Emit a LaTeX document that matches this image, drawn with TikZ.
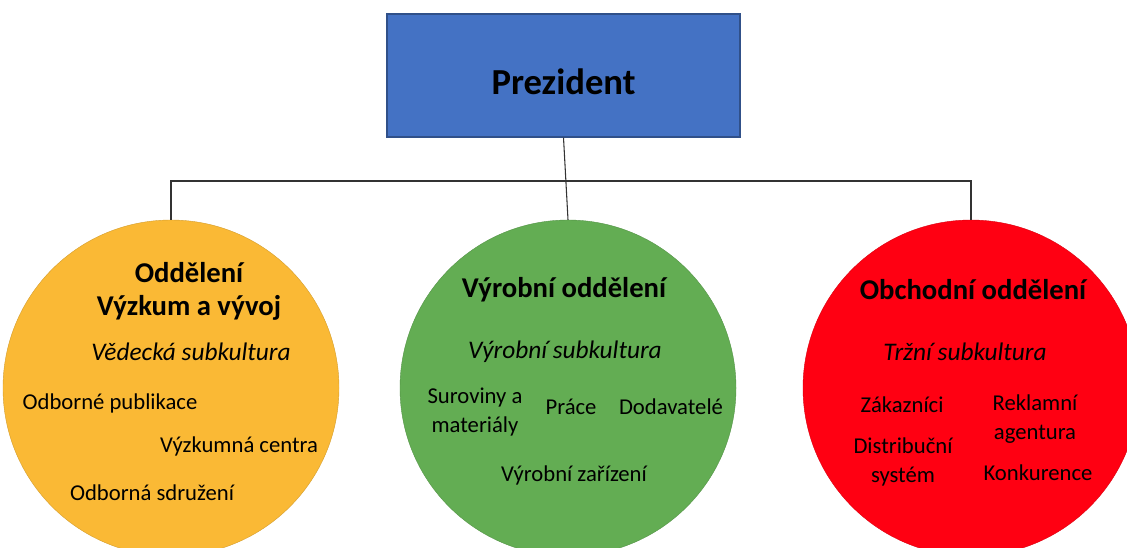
\documentclass[tikz,border=0pt]{standalone}
\usepackage{fontspec}
\setmainfont{Carlito}
\usetikzlibrary{positioning}
\definecolor{prezblue}{HTML}{4472C4}
\definecolor{rdorange}{HTML}{FAB935}
\definecolor{prodgreen}{HTML}{63AD53}
\definecolor{salesred}{HTML}{FF0012}
\tikzset{
 prezbox/.style={draw=prezblue!70!black, fill=prezblue, minimum width=264.75pt, minimum height=92.25pt, line width=0.8pt, text height=28pt, text depth=0pt, font=\fontsize{27.5}{32}\selectfont\bfseries},
 dept/.style={circle, draw=#1!85!black, fill=#1, minimum size=252pt, inner sep=0pt, line width=0.3pt},
 title/.style={font=\fontsize{21.5}{24.75}\selectfont\bfseries, align=center},
 sub/.style={font=\fontsize{19}{22}\selectfont\itshape},
 item/.style={font=\fontsize{17}{21.75}\selectfont, align=center},
}
\begin{document}
\begin{tikzpicture}[x=0.75pt, y=-0.75pt]
\useasboundingbox (0,0) rectangle (1127,547);
\node[prezbox] (prez) at (563.5,75.5) {Prezident};
\node[dept=rdorange] (rd) at (171,388) {};
\node[dept=prodgreen] (prod) at (568,388) {};
\node[dept=salesred] (sales) at (971,388) {};
\coordinate (bar) at (568,181);
\draw[black!80, line width=0.8pt] (prez.south) -- (prod.north);
\draw[black!80, line width=0.8pt] (rd.north) |- (bar) -| (sales.north);

\node[title] (rdt) at (189,291) {Oddělení\\Výzkum a vývoj};
\node[sub] (rds) at (191,352) {Vědecká subkultura};
\node[item] (pub) at (110,403) {Odborné publikace};
\node[item] (cen) at (239,446) {Výzkumná centra};
\node[item] (sdr) at (152,493) {Odborná sdružení};

\node[title] (prodt) at (564,290) {Výrobní oddělení};
\node[sub] (prods) at (565,352) {Výrobní subkultura};
\node[item] (sur) at (475,412) {Suroviny a\\materiály};
\node[item] (pra) at (571,407) {Práce};
\node[item] (dod) at (671,407) {Dodavatelé};
\node[item] (zar) at (574,475) {Výrobní zařízení};

\node[title] (salest) at (973,290) {Obchodní oddělení};
\node[sub] (saless) at (965,352) {Tržní subkultura};
\node[item] (zak) at (902,405) {Zákazníci};
\node[item] (rek) at (1035,419) {Reklamní\\agentura};
\node[item] (dis) at (903,462) {Distribuční\\systém};
\node[item] (kon) at (1038,473) {Konkurence};
\end{tikzpicture}
\end{document}
